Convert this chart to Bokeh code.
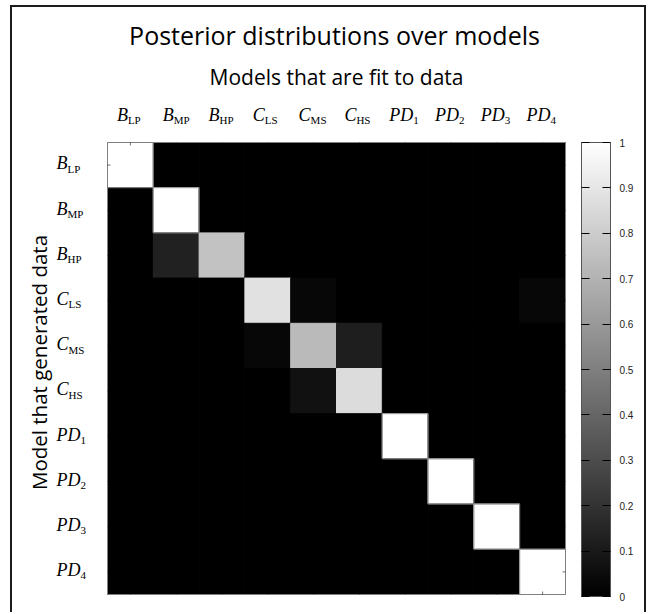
import math
from bokeh.plotting import figure
from bokeh.models import (ColumnDataSource, LinearColorMapper, ColorBar, FixedTicker, Range1d)
from bokeh.core.properties import value
from bokeh.transform import transform
from bokeh.embed import file_html
from bokeh.resources import INLINE

# ---------------- data ----------------
model_main = ["B", "B", "B", "C", "C", "C", "PD", "PD", "PD", "PD"]
model_sub = ["LP", "MP", "HP", "LS", "MS", "HS", "1", "2", "3", "4"]

# rows: model that generated data, columns: model fit to data
row_BLP = [1.00, 0.00, 0.00, 0.00, 0.00, 0.00, 0.00, 0.00, 0.00, 0.00]
row_BMP = [0.00, 1.00, 0.00, 0.00, 0.00, 0.00, 0.00, 0.00, 0.00, 0.00]
row_BHP = [0.00, 0.13, 0.76, 0.00, 0.00, 0.00, 0.00, 0.00, 0.00, 0.00]
row_CLS = [0.00, 0.00, 0.00, 0.88, 0.03, 0.00, 0.00, 0.00, 0.00, 0.03]
row_CMS = [0.00, 0.00, 0.00, 0.03, 0.73, 0.12, 0.00, 0.00, 0.00, 0.00]
row_CHS = [0.00, 0.00, 0.00, 0.00, 0.07, 0.86, 0.00, 0.00, 0.00, 0.00]
row_PD1 = [0.00, 0.00, 0.00, 0.00, 0.00, 0.00, 1.00, 0.00, 0.00, 0.00]
row_PD2 = [0.00, 0.00, 0.00, 0.00, 0.00, 0.00, 0.00, 1.00, 0.00, 0.00]
row_PD3 = [0.00, 0.00, 0.00, 0.00, 0.00, 0.00, 0.00, 0.00, 1.00, 0.00]
row_PD4 = [0.00, 0.00, 0.00, 0.00, 0.00, 0.00, 0.00, 0.00, 0.00, 1.00]
posterior = [row_BLP, row_BMP, row_BHP, row_CLS, row_CMS, row_CHS,
             row_PD1, row_PD2, row_PD3, row_PD4]

colorbar_ticks = [0, 0.1, 0.2, 0.3, 0.4, 0.5, 0.6, 0.7, 0.8, 0.9, 1]

title_text = "Posterior distributions over models"
subtitle_text = "Models that are fit to data"
ylabel_text = "Model that generated data"

# ---------------- layout (pixels) ----------------
n = len(model_main)
CW, CH = 636, 607                 # canvas size
OX, OY = 12, 7                    # canvas origin on the page
HM_L, HM_T, HM_W, HM_H = 95, 135, 458, 452   # heatmap box inside canvas
cw, ch = HM_W / n, HM_H / n       # pixel size of a cell
BASE_FIX = 0.43                   # baseline correction (em) for text glyphs

def px_x(sx):   # canvas px -> data x
    return -0.5 + (sx - HM_L) / cw

def px_y(sy):   # canvas px -> data y (rows go downwards)
    return -0.5 + (sy - HM_T) / ch

def base_y(page_y, fs):   # wanted page baseline -> data y
    return px_y(page_y - OY - BASE_FIX * fs)

grays = ["#%02x%02x%02x" % (v, v, v) for v in range(256)]
mapper = LinearColorMapper(palette=grays, low=0, high=1)

# approximate glyph widths (em) for Liberation Serif italic
ital_w = {"B": 0.611, "C": 0.667, "P": 0.611, "D": 0.722}
MAIN_FS = 18
SUB_FS = 11
w_main = [sum(ital_w[c] for c in s) * MAIN_FS for s in model_main]
# where the main letter(s) end, relative to the column centre (px)
label_anchor = {"B": -2.5, "C": -3.0, "PD": 8.0}

# ---------------- figure ----------------
p = figure(width=CW, height=CH,
           x_range=Range1d(px_x(0), px_x(CW)), y_range=Range1d(px_y(CH), px_y(0)),
           x_axis_location=None, y_axis_location=None,
           toolbar_location=None, output_backend="svg",
           min_border=0)
p.grid.visible = False
p.outline_line_color = None
p.background_fill_color = "white"
p.border_fill_color = "white"
p.styles = {"border-top": "2px solid #1c1c1c", "border-left": "2px solid #1c1c1c",
            "border-right": "2px solid #1c1c1c", "margin-left": "10px",
            "margin-top": "5px"}

xs, ys, vals = [], [], []
for j, row in enumerate(posterior):
    for i, v in enumerate(row):
        xs.append(i)
        ys.append(j)
        vals.append(v)
src = ColumnDataSource(dict(fit=xs, gen=ys, value=vals))
p.rect(x="fit", y="gen", width=1, height=1, source=src,
       fill_color=transform("value", mapper),
       line_color=transform("value", mapper), line_width=1)

# thin grey edge round the saturated (white) cells, as in the original image
hi = [k for k, v in enumerate(vals) if v > 0.95]
hi_src = ColumnDataSource(dict(fit=[xs[k] for k in hi], gen=[ys[k] for k in hi]))
p.rect(x="fit", y="gen", width=1, height=1, source=hi_src,
       fill_color=None, line_color="#8a8a8a", line_width=1)

# heatmap border
p.rect(x=(n - 1) / 2.0, y=(n - 1) / 2.0, width=n, height=n,
       fill_color=None, line_color="#808080", line_width=1)

# small inward ticks at the cell centres (only visible on light cells)
idx = list(range(n))
tk = 3.0
p.segment(x0=idx, y0=[-0.5] * n, x1=idx, y1=[-0.5 + tk / ch] * n,
          line_color="black", line_alpha=0.55)
p.segment(x0=idx, y0=[n - 0.5] * n, x1=idx, y1=[n - 0.5 - tk / ch] * n,
          line_color="black", line_alpha=0.55)
p.segment(x0=[-0.5] * n, y0=idx, x1=[-0.5 + tk / cw] * n, y1=idx,
          line_color="black", line_alpha=0.55)
p.segment(x0=[n - 0.5] * n, y0=idx, x1=[n - 0.5 - tk / cw] * n, y1=idx,
          line_color="black", line_alpha=0.55)

serif = value("Liberation Serif")

# column labels (top)
anchor = [label_anchor[m] for m in model_main]
col_src = ColumnDataSource(dict(x=idx, main=model_main, sub=model_sub, anchor=anchor))
p.text(x="x", y=base_y(122, MAIN_FS), text="main", source=col_src, x_offset="anchor",
       text_align="right", text_baseline="alphabetic", text_font=serif,
       text_font_style="italic", text_font_size=f"{MAIN_FS}px", text_color="black")
p.text(x="x", y=base_y(124.5, SUB_FS), text="sub", source=col_src, x_offset="anchor",
       text_align="left", text_baseline="alphabetic", text_font=serif,
       text_font_size=f"{SUB_FS}px", text_color="black")

# row labels (left)
row_src = ColumnDataSource(dict(
    y_main=[j + (6 - BASE_FIX * MAIN_FS) / ch for j in idx],
    y_sub=[j + (8.5 - BASE_FIX * SUB_FS) / ch for j in idx],
    main=model_main, sub=model_sub, sub_off=w_main))
p.text(x=px_x(56 - OX), y="y_main", text="main", source=row_src,
       text_align="left", text_baseline="alphabetic", text_font=serif,
       text_font_style="italic", text_font_size=f"{MAIN_FS}px", text_color="black")
p.text(x=px_x(56 - OX), y="y_sub", text="sub", source=row_src, x_offset="sub_off",
       text_align="left", text_baseline="alphabetic", text_font=serif,
       text_font_size=f"{SUB_FS}px", text_color="black")

# titles
p.text(x=[px_x(334 - OX)], y=[base_y(45, 25)], text=[title_text], text_align="center",
       text_baseline="alphabetic", text_font=value("Open Sans"),
       text_font_size="25px", text_color="black")
p.text(x=[px_x(336 - OX)], y=[base_y(86, 21)], text=[subtitle_text], text_align="center",
       text_baseline="alphabetic", text_font=value("Open Sans"),
       text_font_size="21px", text_color="black")
p.text(x=[px_x(38 - OX)], y=[px_y(362 - OY)], text=[ylabel_text], angle=math.pi / 2,
       text_align="center", text_baseline="middle", text_font=value("Open Sans"),
       text_font_size="20.5px", text_color="black")

# colour bar
cb = ColorBar(color_mapper=mapper, ticker=FixedTicker(ticks=colorbar_ticks),
              width=29, height=454, padding=0, margin=0,
              location=(581 - OX, CH - (596 - OY)),
              major_tick_in=29, major_tick_out=0, major_tick_line_color="black",
              major_tick_line_dash="8 13", minor_tick_line_color=None,
              bar_line_color="#555555", label_standoff=9,
              major_label_text_font="Liberation Sans",
              major_label_text_font_size="10px", major_label_text_color="#222222",
              border_line_color=None, background_fill_color=None)
p.add_layout(cb, "center")

open("out.html", "w").write(file_html(p, INLINE))
